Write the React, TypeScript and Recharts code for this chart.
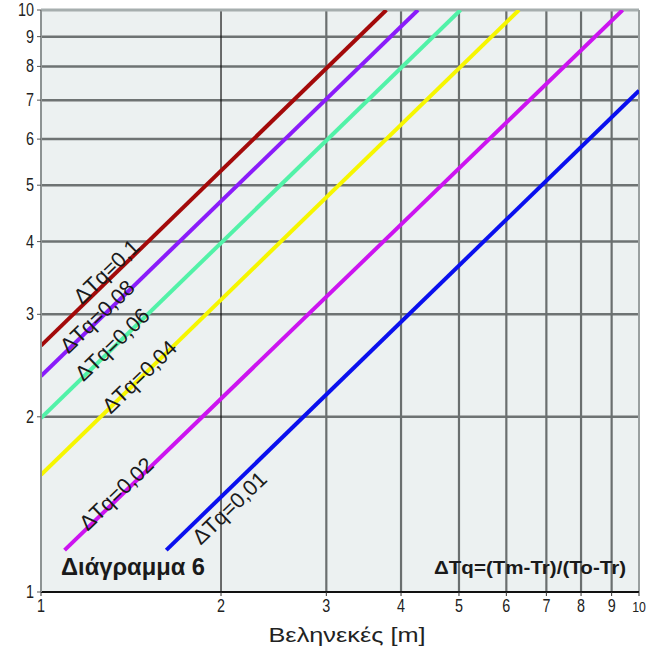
import React from 'react';
import { LineChart, Line, XAxis, YAxis, ReferenceLine, ReferenceArea, ReferenceDot } from 'recharts';

const xTicks = [1, 2, 3, 4, 5, 6, 7, 8, 9, 10];
const yTicks = [1, 2, 3, 4, 5, 6, 7, 8, 9, 10];
const gridX = [3, 4, 5, 6, 7, 8, 9];
const gridY = [2, 3, 4, 5, 6, 7, 8, 9];

const dtq010 = [{ x: 1, y: 2.65 }, { x: 3.78, y: 10 }];
const dtq008 = [{ x: 1, y: 2.35 }, { x: 4.27, y: 10 }];
const dtq006 = [{ x: 1, y: 1.99 }, { x: 5.03, y: 10 }];
const dtq004 = [{ x: 1, y: 1.59 }, { x: 6.3, y: 10 }];
const dtq002 = [{ x: 1.095, y: 1.18 }, { x: 9.39, y: 10 }];
const dtq001 = [{ x: 1.62, y: 1.18 }, { x: 10, y: 7.27 }];

const lineLabels = [
  { x: 1.287, y: 3.55, text: 'ΔTq=0,1' },
  { x: 1.243, y: 2.97, text: 'ΔTq=0,08' },
  { x: 1.317, y: 2.66, text: 'ΔTq=0,06' },
  { x: 1.462, y: 2.34, text: 'ΔTq=0,04' },
  { x: 1.338, y: 1.473, text: 'ΔTq=0,02' },
  { x: 2.068, y: 1.393, text: 'ΔTq=0,01' },
];

const FONT = '"Liberation Sans", Arial, sans-serif';

const XTick = (props: any) => {
  const { x, y, payload } = props;
  const small = payload.value === 10;
  return (
    <text
      transform={`translate(${x},${y + 14}) scale(0.82,1)`}
      textAnchor="middle"
      fontSize={small ? 15 : 17.5}
      fontFamily={FONT}
      fill="#222"
    >
      {payload.value}
    </text>
  );
};

const YTick = (props: any) => {
  const { x, y, payload } = props;
  return (
    <text
      transform={`translate(${x - 1},${y + 6}) scale(0.82,1)`}
      textAnchor="end"
      fontSize={17.5}
      fontFamily={FONT}
      fill="#222"
    >
      {payload.value}
    </text>
  );
};

const makeLabel = (text: string) => (props: any) => {
  const { cx, cy } = props;
  return (
    <text
      x={cx}
      y={cy}
      transform={`rotate(-44 ${cx} ${cy})`}
      textAnchor="middle"
      dominantBaseline="central"
      fontSize={21.5}
      fontFamily={FONT}
      fill="#1a1a1a"
    >
      {text}
    </text>
  );
};

export default function App() {
  return (
    <div style={{ position: 'absolute', left: 0, top: 0, width: 656, height: 648, background: '#fff' }}>
      <LineChart
        width={656}
        height={648}
        margin={{ top: 10, right: 17, bottom: 0, left: 0 }}
      >
        <XAxis
          dataKey="x"
          type="number"
          scale="log"
          domain={[1, 10]}
          ticks={xTicks}
          allowDataOverflow
          height={56}
          tick={<XTick />}
          tickSize={4}
          axisLine={{ stroke: '#111', strokeWidth: 2 }}
          tickLine={{ stroke: '#333' }}
          interval={0}
        />
        <YAxis
          dataKey="y"
          type="number"
          scale="log"
          domain={[1, 10]}
          ticks={yTicks}
          allowDataOverflow
          width={41}
          tick={<YTick />}
          tickSize={4}
          axisLine={{ stroke: '#8d9393', strokeWidth: 2 }}
          tickLine={{ stroke: '#555' }}
          interval={0}
        />
        <ReferenceArea x1={1} x2={10} y1={1} y2={10} fill="#ECF1F1" fillOpacity={1} stroke="none" zIndex={-90} />
        {gridY.map((v) => (
          <ReferenceLine key={'gy' + v} y={v} stroke="#6e7373" strokeWidth={2.5} zIndex={-80} />
        ))}
        {gridX.map((v) => (
          <ReferenceLine key={'gx' + v} x={v} stroke="#6a6f6f" strokeWidth={2.2} zIndex={-80} />
        ))}
        <ReferenceLine x={2} stroke="#111" strokeWidth={1.2} zIndex={-80} />
        <ReferenceLine y={10} stroke="#a6aeae" strokeWidth={3} zIndex={-80} />
        <ReferenceLine x={10} stroke="#9aa0a0" strokeWidth={2} zIndex={-80} />

        <Line data={dtq010} dataKey="y" stroke="#A30A0A" strokeWidth={4} dot={false} isAnimationActive={false} />
        <Line data={dtq008} dataKey="y" stroke="#8A1CFA" strokeWidth={4} dot={false} isAnimationActive={false} />
        <Line data={dtq006} dataKey="y" stroke="#52F2A8" strokeWidth={4} dot={false} isAnimationActive={false} />
        <Line data={dtq004} dataKey="y" stroke="#F6F600" strokeWidth={4} dot={false} isAnimationActive={false} />
        <Line data={dtq002} dataKey="y" stroke="#CC14F0" strokeWidth={4} dot={false} isAnimationActive={false} />
        <Line data={dtq001} dataKey="y" stroke="#0A10EE" strokeWidth={4} dot={false} isAnimationActive={false} />

        {lineLabels.map((l) => (
          <ReferenceDot
            key={l.text}
            x={l.x}
            y={l.y}
            r={1}
            shape={makeLabel(l.text)}
            zIndex={1500}
          />
        ))}
      </LineChart>
      <svg
        width={656}
        height={648}
        style={{ position: 'absolute', left: 0, top: 0, pointerEvents: 'none' }}
      >
        <text x={61} y={575} fontSize={23} fontWeight="bold" fontFamily={FONT} fill="#1a1a1a" textLength={144} lengthAdjust="spacingAndGlyphs">
          Διάγραμμα 6
        </text>
        <text x={434} y={574} fontSize={17.5} fontWeight="bold" fontFamily={FONT} fill="#1a1a1a" textLength={192} lengthAdjust="spacingAndGlyphs">
          ΔTq=(Tm-Tr)/(To-Tr)
        </text>
        <text x={347} y={642} textAnchor="middle" fontSize={21} fontFamily={FONT} fill="#222" textLength={157} lengthAdjust="spacingAndGlyphs">
          Βεληνεκές [m]
        </text>
      </svg>
    </div>
  );
}
